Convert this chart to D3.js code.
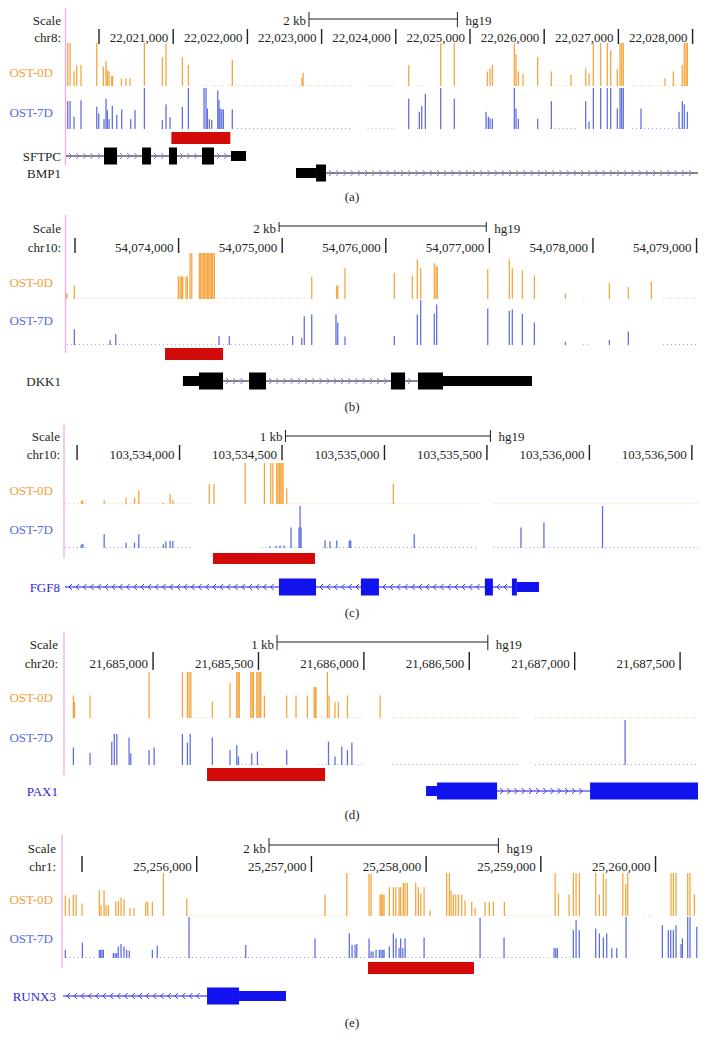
<!DOCTYPE html>
<html><head><meta charset="utf-8">
<script src="https://cdn.jsdelivr.net/npm/d3@7"></script>
<style>
body{margin:0;background:#fff}
svg{display:block}
</style>
</head><body>
<svg id="c" width="708" height="1049"></svg>
<script>
// ===== DATA (positions in bp relative to each panel's anchor; heights in % of track max) =====
// Panel (a) chr8 SFTPC / BMP1
const aAnchor = 22020000;
const aTicks = [0,1000,2000,3000,4000,5000,6000,7000,8000];
const aTickLabels = ["","22,021,000","22,022,000","22,023,000","22,024,000","22,025,000","22,026,000","22,027,000","22,028,000"];
const a0D = [[-422,100],[-391,100],[-337,34],[-301,48],[-243,49],[-31,100],[58,45],[94,59],[112,37],[135,34],[171,23],[182,23],[301,18],[364,18],[418,18],[611,100],[853,67],[903,100],[1123,67],[1204,49],[1796,61],[2736,20],[2750,31],[4174,49],[4605,100],[4788,100],[5233,34],[5270,41],[5301,49],[5597,100],[5620,73],[5651,34],[5714,28],[5912,67],[6096,34],[6361,26],[6559,41],[6604,28],[6662,100],[6761,100],[6850,100],[6896,83],[6985,39],[7022,100],[7044,100],[7066,100],[7628,18],[7740,34],[7861,49],[7888,100],[7911,100],[7929,100]];
const a7D = [[-422,68],[-391,68],[-337,30],[-243,70],[-31,54],[-4,38],[67,24],[94,74],[112,46],[135,24],[179,56],[239,34],[306,48],[427,24],[485,46],[611,100],[853,22],[903,60],[957,29],[1123,54],[1204,100],[1415,100],[1442,100],[1460,50],[1487,24],[1519,22],[1600,94],[1617,70],[1631,50],[1654,48],[1675,48],[1796,48],[4174,74],[4317,42],[4349,56],[4398,86],[4605,100],[4788,74],[5216,42],[5247,30],[5270,26],[5301,25],[5597,100],[5620,50],[5651,25],[5912,25],[6096,68],[6559,68],[6604,18],[6662,100],[6761,100],[6850,100],[6896,100],[6985,50],[7022,100],[7044,100],[7066,100],[7305,50],[7817,42],[7861,68],[7888,60],[7929,42]];
const aNoise0D = [[1400,3410],[3620,3990],[4290,4370],[6083,6441],[7183,7873]];
const aNoise7D = [[1860,3410],[3620,4000],[4290,4370],[6083,6441],[7183,7873]];
const aRed = [[975,1770]];
const aScaleBar = [2830,2000,"2 kb"];
const aGenes = [
  {name:"SFTPC",strand:"+",start:-445,end:1981,exons:[[67,243],[580,701],[943,1051],[1388,1550]],utr:[[1779,1981]]},
  {name:"BMP1",strand:"+",start:2655,end:8073,exons:[[2925,3059]],utr:[[2655,2925]]}
];

// Panel (b) chr10 DKK1
const bAnchor = 54073000;
const bTicks = [0,1000,2000,3000,4000,5000,6000];
const bTickLabels = ["","54,074,000","54,075,000","54,076,000","54,077,000","54,078,000","54,079,000"];
const b0D = [[-80,13],[-7,29],[997,49],[1014,49],[1030,49],[1040,49],[1071,49],[1084,49],[1110,100],[1127,100],[1200,100],[1213,100],[1226,100],[1238,100],[1252,100],[1265,100],[1277,100],[1291,100],[1303,100],[1316,100],[1329,100],[1345,100],[2285,49],[2526,29],[2536,29],[2606,67],[3082,57],[3256,51],[3304,86],[3337,67],[3468,78],[3485,71],[3497,71],[3984,65],[4192,86],[4221,67],[4318,62],[4434,51],[4733,12],[5158,35],[5341,26],[5563,38]];
const b7D = [[-7,35],[338,11],[393,24],[1390,20],[1489,20],[2101,20],[2188,16],[2213,64],[2285,68],[2519,68],[2536,50],[2606,19],[3082,20],[3304,68],[3337,100],[3468,70],[3491,90],[3984,81],[4192,76],[4221,79],[4318,69],[4434,50],[4733,7],[5158,11],[5341,30]];
const bNoise0D = [[19,980],[1360,2220],[4905,4972],[5676,6014]];
const bNoise7D = [[-77,2075],[4905,4972],[5676,6014]];
const bRed = [[869,1429]];
const bScaleBar = [1970,2000,"2 kb"];
const bGenes = [
  {name:"DKK1",strand:"+",start:1042,end:4411,exons:[[1197,1429],[1680,1844],[3050,3186],[3311,3552]],utr:[[1042,1197],[3552,4411]]}
];

// Panel (c) chr10 FGF8
const cAnchor = 103533500;
const cTicks = [0,500,1000,1500,2000,2500,3000];
const cTickLabels = ["","103,534,000","103,534,500","103,535,000","103,535,500","103,536,000","103,536,500"];
const c0D = [[21,8],[28,8],[132,9],[239,16],[280,16],[301,33],[421,3],[454,25],[467,10],[645,49],[668,49],[820,100],[914,100],[945,100],[955,100],[974,100],[980,100],[987,100],[994,100],[1000,100],[1005,100],[1023,38],[1543,50]];
const c7D = [[20,8],[28,10],[132,33],[239,13],[280,13],[301,33],[421,9],[433,16],[454,17],[467,17],[941,4],[971,5],[990,6],[1010,6],[1044,49],[1083,49],[1088,100],[1093,49],[1210,18],[1234,16],[1267,18],[1328,18],[1335,18],[1645,33],[2166,49],[2278,61],[2564,100]];
const cNoise0D = [[-59,60],[140,560],[1040,1960],[2030,3030]];
const cNoise7D = [[-59,60],[140,560],[900,1100],[1200,1960],[2030,3030]];
const cRed = [[663,1161]];
const cScaleBar = [1017,1000,"1 kb"];
const cGenes = [
  {name:"FGF8",strand:"-",start:-59,end:2254,exons:[[985,1166],[1385,1473],[1990,2029],[2122,2146]],utr:[[2146,2254]]}
];

// Panel (d) chr20 PAX1
const dAnchor = 21685000;
const dTicks = [0,500,1000,1500,2000,2500];
const dTickLabels = ["21,685,000","21,685,500","21,686,000","21,686,500","21,687,000","21,687,500"];
const d0D = [[-378,49],[-373,35],[-299,49],[-19,100],[139,100],[163,100],[171,100],[179,100],[281,35],[365,76],[397,100],[403,100],[409,100],[463,100],[470,100],[476,100],[492,100],[498,100],[506,100],[511,100],[528,49],[634,49],[678,49],[732,49],[764,67],[769,67],[773,67],[827,100],[835,49],[863,35],[879,35],[922,49],[1077,49]];
const d7D = [[-378,39],[-299,27],[-196,52],[-184,69],[-172,69],[-114,61],[-106,26],[-19,33],[5,39],[139,69],[163,50],[176,69],[281,61],[365,33],[397,44],[405,19],[468,26],[495,30],[634,33],[832,52],[863,19],[895,41],[922,33],[943,50],[2239,100]];
const dNoise0D = [[-110,-90],[200,260],[780,1000],[1134,1727],[1812,2585]];
const dNoise7D = [[400,520],[780,1000],[1134,1727],[1812,2585]];
const dRed = [[256,816]];
const dScaleBar = [588,1000,"1 kb"];
const dGenes = [
  {name:"PAX1",strand:"+",start:1295,end:2585,exons:[[1347,1632],[2073,2585]],utr:[[1295,1347]]}
];

// Panel (e) chr1 RUNX3
const eAnchor = 25255000;
const eTicks = [0,1000,2000,3000,4000,5000];
const eTickLabels = ["","25,256,000","25,257,000","25,258,000","25,259,000","25,260,000"];
const e0D = [[-146,48],[-111,40],[-76,50],[-52,50],[0,29],[151,60],[166,25],[192,60],[209,25],[229,25],[294,33],[316,35],[340,43],[366,39],[418,19],[453,19],[555,33],[573,33],[613,33],[709,100],[913,40],[2118,50],[2308,100],[2502,98],[2520,98],[2598,50],[2610,50],[2622,50],[2633,50],[2679,67],[2714,67],[2735,67],[2764,67],[2778,67],[2801,77],[2816,77],[2836,77],[2909,77],[2932,67],[2953,52],[2982,67],[3034,13],[3179,100],[3202,100],[3217,60],[3237,50],[3258,50],[3281,50],[3310,50],[3339,36],[3397,33],[3426,19],[3513,33],[3551,33],[3586,33],[3682,33],[4124,100],[4153,52],[4246,50],[4283,100],[4307,100],[4335,100],[4478,100],[4510,50],[4545,100],[4568,87],[4714,100],[4740,75],[4757,100],[5135,100],[5155,100],[5178,100],[5280,100],[5300,100],[5338,50]];
const e7D = [[-146,20],[3,38],[151,20],[163,20],[174,20],[186,20],[273,12],[288,12],[302,12],[316,28],[340,34],[366,28],[389,20],[412,18],[613,20],[656,30],[933,100],[1427,32],[2031,48],[2330,60],[2354,32],[2380,32],[2395,34],[2502,48],[2520,16],[2537,16],[2563,20],[2592,20],[2607,20],[2622,20],[2633,20],[2679,28],[2714,60],[2737,48],[2764,24],[2778,48],[2796,24],[2816,48],[2982,50],[3470,98],[3679,50],[4115,24],[4130,24],[4144,24],[4283,68],[4307,92],[4335,68],[4478,72],[4510,60],[4545,50],[4574,60],[4618,24],[4661,24],[4743,100],[5059,80],[5111,68],[5132,68],[5155,68],[5178,80],[5222,34],[5234,48],[5280,100],[5300,100],[5359,76]];
const eNoise0D = [[920,2300],[3690,4100],[4900,5000]];
const eNoise7D = [[-140,130],[680,2510],[2836,4080],[4180,4260]];
const eRed = [[2493,3417]];
const eScaleBar = [1630,2000,"2 kb"];
const eGenes = [
  {name:"RUNX3",strand:"-",start:-166,end:1778,exons:[[1090,1369]],utr:[[1369,1778]]}
];

const trackNames = ["OST-0D","OST-7D"];
const assembly = "hg19";

// ===== LAYOUT =====
const panels = [
  {cap:"(a)", chrom:"chr8:", domain:[-445,8073], xr:[66,698], ticks:aTicks, tickLabels:aTickLabels, d0:a0D, d7:a7D, n0:aNoise0D, n7:aNoise7D, red:aRed, sb:aScaleBar, genes:aGenes, dark:true,
   L:{labX:61, scaleBase:25, chrBase:42, tick:[29,44], sb:[19,12,27], t0:[43,86], lab0:77, t7:[88,129], lab7:117, red:[132,144], gy:[156,173], pinkX:65.5, pink:[8,165], cap:201}},
  {cap:"(b)", chrom:"chr10:", domain:[-87,6014], xr:[66,698], ticks:bTicks, tickLabels:bTickLabels, d0:b0D, d7:b7D, n0:bNoise0D, n7:bNoise7D, red:bRed, sb:bScaleBar, genes:bGenes, dark:true,
   L:{labX:61, scaleBase:233, chrBase:252, tick:[238,253], sb:[226,222,232], t0:[253,299], lab0:287, t7:[300,345], lab7:325, red:[348,360], gy:[381], pinkX:65.5, pink:[215,353], cap:411}},
  {cap:"(c)", chrom:"chr10:", domain:[-59,3030], xr:[65,698], ticks:cTicks, tickLabels:cTickLabels, d0:c0D, d7:c7D, n0:cNoise0D, n7:cNoise7D, red:cRed, sb:cScaleBar, genes:cGenes, dark:false,
   L:{labX:60, scaleBase:441, chrBase:459, tick:[445,460], sb:[436,430,442], t0:[463,504], lab0:495, t7:[506,548], lab7:534, red:[553,564], gy:[587], pinkX:64, pink:[425,558], cap:617}},
  {cap:"(d)", chrom:"chr20:", domain:[-413,2585], xr:[66,698], ticks:dTicks, tickLabels:dTickLabels, d0:d0D, d7:d7D, n0:dNoise0D, n7:dNoise7D, red:dRed, sb:dScaleBar, genes:dGenes, dark:false,
   L:{labX:58, scaleBase:649, chrBase:668, tick:[652,670], sb:[642,635,650], t0:[672,718], lab0:702, t7:[720,765], lab7:742, red:[768,781], gy:[791], pinkX:64, pink:[632,775], cap:819}},
  {cap:"(e)", chrom:"chr1:", domain:[-157,5370], xr:[64,698], ticks:eTicks, tickLabels:eTickLabels, d0:e0D, d7:e7D, n0:eNoise0D, n7:eNoise7D, red:eRed, sb:eScaleBar, genes:eGenes, dark:false,
   L:{labX:56, scaleBase:853, chrBase:871, tick:[856,872], sb:[845,838,853], t0:[873,916], lab0:904, t7:[917,958], lab7:943, red:[962,974], gy:[996], pinkX:62, pink:[835,968], cap:1027}}
];

const COL0 = "#F39C2A", COL7 = "#4F60DC", LAB0 = "#F3A03A", LAB7 = "#5A6BE0";
const FONT = "Liberation Serif";
const svg = d3.select("#c");

function txt(g, x, y, s, anchor, fill) {
  return g.append("text").attr("x",x).attr("y",y).attr("text-anchor",anchor||"start")
    .attr("font-family",FONT).attr("font-size",13).attr("fill",fill||"#231f20").text(s);
}

panels.forEach(p => {
  const L = p.L;
  const g = svg.append("g");
  const x = d3.scaleLinear().domain(p.domain).range(p.xr);

  // pink left border
  g.append("line").attr("x1",L.pinkX).attr("x2",L.pinkX).attr("y1",L.pink[0]).attr("y2",L.pink[1])
    .attr("stroke","#F2A9E8").attr("stroke-width",1.3);

  // Scale / chrom labels
  txt(g, L.labX, L.scaleBase, "Scale", "end");
  txt(g, L.labX, L.chrBase, p.chrom, "end");

  // scale bar
  const s0 = x(p.sb[0]), s1 = x(p.sb[0]+p.sb[1]);
  g.append("line").attr("x1",s0).attr("x2",s1).attr("y1",L.sb[0]).attr("y2",L.sb[0]).attr("stroke","#231f20").attr("stroke-width",1);
  [s0,s1].forEach(v => g.append("line").attr("x1",v).attr("x2",v).attr("y1",L.sb[1]).attr("y2",L.sb[2]).attr("stroke","#231f20").attr("stroke-width",1));
  txt(g, s0-3, L.scaleBase, p.sb[2], "end");
  txt(g, s1+8, L.scaleBase, assembly);

  // position ticks
  p.ticks.forEach((t,i) => {
    const xv = x(t);
    g.append("line").attr("x1",xv).attr("x2",xv).attr("y1",L.tick[0]).attr("y2",L.tick[1]).attr("stroke","#231f20").attr("stroke-width",1.4);
    if (p.tickLabels[i]) txt(g, xv-5, L.chrBase, p.tickLabels[i], "end");
  });

  // signal tracks
  const tracks = [[p.d0,p.n0,L.t0,COL0,LAB0,L.lab0,trackNames[0]],[p.d7,p.n7,L.t7,COL7,LAB7,L.lab7,trackNames[1]]];
  tracks.forEach(([data,noise,yr,col,lcol,ly,name]) => {
    const y = d3.scaleLinear().domain([0,100]).range([yr[1],yr[0]]);
    txt(g, 53, ly, name, "end", lcol);
    g.selectAll(null).data(noise).enter().append("line")
      .attr("x1",d=>x(d[0])).attr("x2",d=>x(d[1])).attr("y1",yr[1]-0.5).attr("y2",yr[1]-0.5)
      .attr("stroke",col).attr("stroke-width",1).attr("stroke-dasharray","1,3").attr("opacity",0.55);
    g.selectAll(null).data(data).enter().append("rect")
      .attr("x",d=>x(d[0])-0.6).attr("width",1.25)
      .attr("y",d=>y(d[1])).attr("height",d=>y(0)-y(d[1]))
      .attr("fill",col).attr("opacity",0.92);
  });

  // red region
  g.selectAll(null).data(p.red).enter().append("rect")
    .attr("x",d=>x(d[0])).attr("width",d=>x(d[1])-x(d[0]))
    .attr("y",L.red[0]).attr("height",L.red[1]-L.red[0]).attr("fill","#D20A0A");

  // genes
  const gcol = p.dark ? "#000" : "#1212EE";
  const lcol = p.dark ? "#231f20" : "#2a2ad0";
  const ccol = p.dark ? "#7878E4" : "#3b3bf0";
  p.genes.forEach((ge,gi) => {
    const cy = L.gy[gi];
    txt(g, L.labX, cy+4.5, ge.name, "end", lcol);
    g.append("line").attr("x1",x(ge.start)).attr("x2",x(ge.end)).attr("y1",cy).attr("y2",cy)
      .attr("stroke",p.dark?"#111":gcol).attr("stroke-width",1);
    const blocks = ge.exons.concat(ge.utr).map(b=>[x(b[0]),x(b[1])]).sort((a,b)=>a[0]-b[0]);
    const segs = []; let cur = x(ge.start);
    blocks.forEach(b => { if (b[0] > cur) segs.push([cur,b[0]]); cur = Math.max(cur,b[1]); });
    if (x(ge.end) > cur) segs.push([cur, x(ge.end)]);
    segs.forEach(s => {
      for (let cx = s[0]+5; cx <= s[1]-3; cx += 7.2) {
        const dpath = ge.strand === "+"
          ? `M${cx-2},${cy-3}L${cx+1},${cy}L${cx-2},${cy+3}`
          : `M${cx+2},${cy-3}L${cx-1},${cy}L${cx+2},${cy+3}`;
        g.append("path").attr("d",dpath).attr("fill","none").attr("stroke",ccol).attr("stroke-width",1);
      }
    });
    g.selectAll(null).data(ge.utr).enter().append("rect")
      .attr("x",d=>x(d[0])).attr("width",d=>x(d[1])-x(d[0])).attr("y",cy-5).attr("height",10).attr("fill",gcol);
    g.selectAll(null).data(ge.exons).enter().append("rect")
      .attr("x",d=>x(d[0])).attr("width",d=>x(d[1])-x(d[0])).attr("y",cy-8.5).attr("height",17).attr("fill",gcol);
  });

  // caption
  txt(g, 352, L.cap, p.cap, "middle");
});
</script>
</body></html>
